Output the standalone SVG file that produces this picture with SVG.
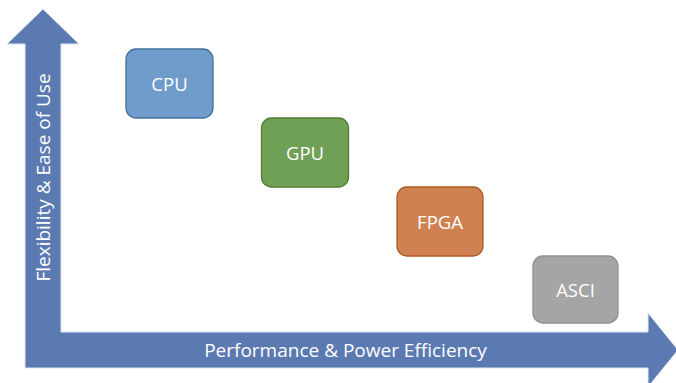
<svg xmlns="http://www.w3.org/2000/svg" width="676" height="383" viewBox="0 0 676 383">
<style>
.axis{fill:#5b7ab2;stroke:#dfe6f2;stroke-width:1}
.box{stroke-width:1.3}
.lbl{font-family:"Open Sans","Liberation Sans",sans-serif;font-size:18.5px;fill:#ffffff;text-anchor:middle;dominant-baseline:central}
.ax{font-family:"Open Sans","Liberation Sans",sans-serif;font-size:19px;fill:#ffffff;text-anchor:middle;dominant-baseline:central}
</style>
<rect width="676" height="383" fill="#ffffff"/>
<g id="connectors">
<path class="axis" d="M25,368 L25,44 L7,44 L43,9 L79,44 L61,44 L61,332 L648,332 L648,313 L678,350 L648,387 L648,368 Z"/>
<text class="ax" transform="translate(43,177.5) rotate(-90)">Flexibility &amp; Ease of Use</text>
<text class="ax" x="345.5" y="350">Performance &amp; Power Efficiency</text>
</g>
<g id="cpu">
<rect class="box" x="126" y="49" width="87" height="69" rx="10" fill="#6f9ccb" stroke="#41719c"/>
<text class="lbl" x="169.5" y="83.5">CPU</text>
</g>
<g id="gpu">
<rect class="box" x="261.5" y="118" width="87" height="69" rx="10" fill="#70a055" stroke="#507e32"/>
<text class="lbl" x="305" y="152.5">GPU</text>
</g>
<g id="fpga">
<rect class="box" x="397" y="187" width="86" height="69" rx="10" fill="#d08152" stroke="#ae5a21"/>
<text class="lbl" x="440" y="221.5">FPGA</text>
</g>
<g id="asci">
<rect class="box" x="533" y="256" width="85" height="67" rx="10" fill="#a5a5a5" stroke="#8f8f8f"/>
<text class="lbl" x="575.5" y="289.5">ASCI</text>
</g>
</svg>
